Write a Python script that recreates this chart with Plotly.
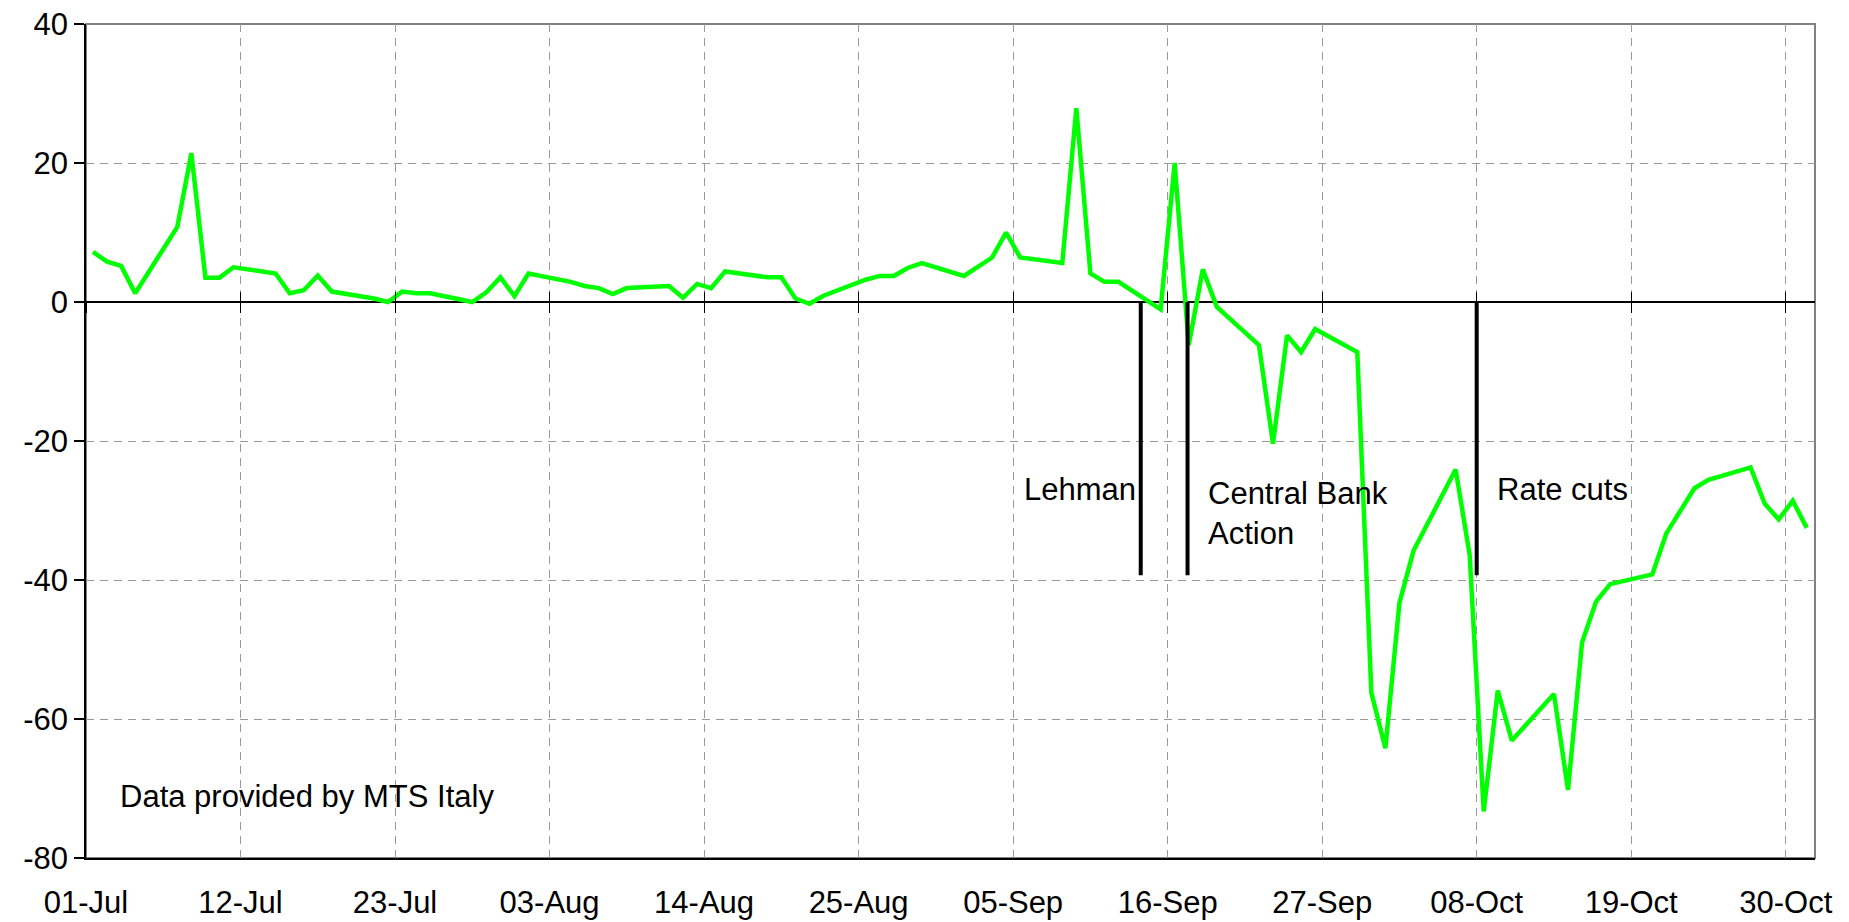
import pandas as pd
import plotly.graph_objects as go

# ---- data ----
dates = [
    "2008-07-01", "2008-07-02", "2008-07-03", "2008-07-04", "2008-07-07", "2008-07-08",
    "2008-07-09", "2008-07-10", "2008-07-11", "2008-07-14", "2008-07-15", "2008-07-16",
    "2008-07-17", "2008-07-18", "2008-07-21", "2008-07-22", "2008-07-23", "2008-07-24",
    "2008-07-25", "2008-07-28", "2008-07-29", "2008-07-30", "2008-07-31", "2008-08-01",
    "2008-08-04", "2008-08-05", "2008-08-06", "2008-08-07", "2008-08-08", "2008-08-11",
    "2008-08-12", "2008-08-13", "2008-08-14", "2008-08-15", "2008-08-18", "2008-08-19",
    "2008-08-20", "2008-08-21", "2008-08-22", "2008-08-25", "2008-08-26", "2008-08-27",
    "2008-08-28", "2008-08-29", "2008-09-01", "2008-09-02", "2008-09-03", "2008-09-04",
    "2008-09-05", "2008-09-08", "2008-09-09", "2008-09-10", "2008-09-11", "2008-09-12",
    "2008-09-15", "2008-09-16", "2008-09-17", "2008-09-18", "2008-09-19", "2008-09-22",
    "2008-09-23", "2008-09-24", "2008-09-25", "2008-09-26", "2008-09-29", "2008-09-30",
    "2008-10-01", "2008-10-02", "2008-10-03", "2008-10-06", "2008-10-07", "2008-10-08",
    "2008-10-09", "2008-10-10", "2008-10-13", "2008-10-14", "2008-10-15", "2008-10-16",
    "2008-10-17", "2008-10-20", "2008-10-21", "2008-10-23", "2008-10-24", "2008-10-27",
    "2008-10-28", "2008-10-29", "2008-10-30", "2008-10-31",
]
values = [
    7.2, 5.8, 5.2, 1.25, 10.8, 21.4,
    3.5, 3.5, 5.0, 4.1, 1.25, 1.7,
    3.8, 1.5, 0.5, 0.0, 1.5, 1.25,
    1.25, 0.0, 1.4, 3.55, 0.85, 4.1,
    2.9, 2.3, 2.0, 1.15, 2.0, 2.3,
    0.6, 2.6, 2.0, 4.4, 3.55, 3.55,
    0.5, -0.25, 0.9, 3.2, 3.75, 3.75,
    4.9, 5.6, 3.75, 5.0, 6.4, 10.0,
    6.4, 5.6, 27.9, 4.1, 2.9, 2.9,
    -1.05, 20.0, -6.2, 4.7, -0.7, -6.2,
    -20.4, -4.8, -7.2, -3.9, -7.2, -56.2,
    -64.2, -43.3, -35.8, -24.1, -36.4, -73.3,
    -55.9, -63.1, -56.4, -70.2, -49.0, -43.1,
    -40.6, -39.2, -33.3, -26.8, -25.6, -23.8,
    -29.0, -31.3, -28.6, -32.5,
]

event_labels = ["Lehman", "Central Bank<br>Action", "Rate cuts"]
event_dates = ["2008-09-14 02:00", "2008-09-17 10:00", "2008-10-08 00:00"]
event_depth = -39.3

note_text = "Data provided by MTS Italy"

y_ticks = [40, 20, 0, -20, -40, -60, -80]

# ---- figure ----
FONT = "Liberation Sans, Arial, sans-serif"
x_pos = pd.to_datetime(dates) + pd.Timedelta(hours=12)
x_range = ["2008-07-01 00:00", "2008-11-01 02:00"]
DAY11 = 11 * 86400000

fig = go.Figure()

fig.add_trace(go.Scatter(
    x=x_pos, y=values, mode="lines",
    line=dict(color="#00FF00", width=4.5),
    showlegend=False, hoverinfo="x+y",
))

for d in event_dates:
    fig.add_trace(go.Scatter(
        x=[d, d], y=[0, event_depth], mode="lines",
        line=dict(color="black", width=4),
        showlegend=False, hoverinfo="skip",
    ))

# invisible traces to carry the crossing tick axes at y=0
for ax in ["x2", "x3"]:
    fig.add_trace(go.Scatter(
        x=x_range, y=[0, 0], xaxis=ax, yaxis="y", mode="lines",
        line=dict(width=0), showlegend=False, hoverinfo="skip",
    ))

common_x = dict(type="date", range=x_range, tick0="2008-07-01", dtick=DAY11,
                automargin=False)

fig.update_layout(
    width=1849, height=922,
    margin=dict(l=86, r=34, t=24, b=64, autoexpand=False),
    paper_bgcolor="white", plot_bgcolor="white",
    font=dict(family=FONT, size=31, color="black"),
    xaxis=dict(
        **common_x,
        tickformat="%d-%b",
        showgrid=True, gridcolor="#9a9a9a", griddash="8px,6px", gridwidth=1,
        showline=True, linecolor="black", linewidth=1.5,
        ticks="", ticklabelstandoff=16,
        tickfont=dict(family=FONT, size=31, color="black"),
        zeroline=False,
    ),
    xaxis2=dict(
        **common_x, overlaying="x", anchor="free", position=2 / 3,
        showgrid=False, showline=False, showticklabels=False,
        ticks="outside", ticklen=10, tickcolor="black", tickwidth=1,
        zeroline=False,
    ),
    xaxis3=dict(
        **common_x, overlaying="x", anchor="free", position=2 / 3,
        showgrid=False, showline=False, showticklabels=False,
        ticks="inside", ticklen=10, tickcolor="black", tickwidth=1,
        zeroline=False,
    ),
    yaxis=dict(
        range=[-80, 40], tickvals=y_ticks, ticktext=[str(v) for v in y_ticks],
        automargin=False,
        showgrid=True, gridcolor="#9a9a9a", griddash="8px,6px", gridwidth=1,
        zeroline=True, zerolinecolor="black", zerolinewidth=1.5,
        showline=True, linecolor="black", linewidth=1.5,
        ticks="outside", ticklen=10, tickcolor="black", tickwidth=1.5,
        tickfont=dict(family=FONT, size=31, color="black"),
    ),
    shapes=[dict(
        type="rect", xref="paper", yref="paper", x0=0, x1=1, y0=0, y1=1,
        line=dict(color="#808080", width=2), layer="below",
    )],
)

# event labels
fig.add_annotation(x=event_dates[0], y=-27.0, text=event_labels[0], showarrow=False,
                   xanchor="right", yanchor="middle", xshift=-3,
                   font=dict(family=FONT, size=31, color="black"))
fig.add_annotation(x=event_dates[1], y=-30.5, text=event_labels[1], showarrow=False,
                   xanchor="left", yanchor="middle", xshift=18, align="left",
                   font=dict(family=FONT, size=31, color="black"))
fig.add_annotation(x=event_dates[2], y=-27.0, text=event_labels[2], showarrow=False,
                   xanchor="left", yanchor="middle", xshift=18,
                   font=dict(family=FONT, size=31, color="black"))
fig.add_annotation(xref="paper", x=0.0185, y=-71.2, text=note_text, showarrow=False,
                   xanchor="left", yanchor="middle",
                   font=dict(family=FONT, size=31, color="black"))

fig.write_html("out.html", config={"displayModeBar": False},
               post_script="document.body.style.margin='0';")
